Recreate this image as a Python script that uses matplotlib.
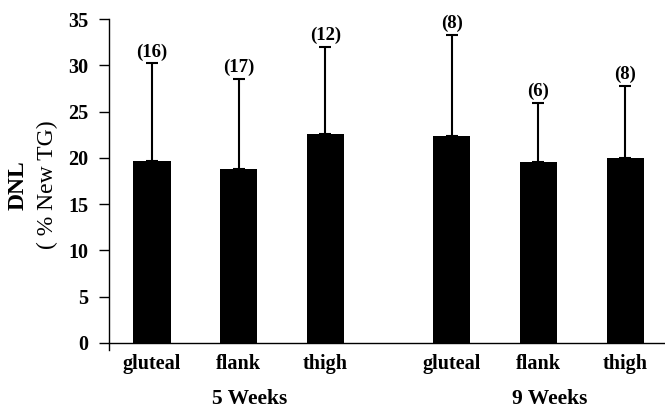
import numpy as np
import matplotlib
matplotlib.use('Agg')
import matplotlib.pyplot as plt

# data
sites = ['gluteal', 'flank', 'thigh']
groups = ['5 Weeks', '9 Weeks']
dnl_5wk = [19.7, 18.8, 22.6]
sd_5wk = [10.5, 9.7, 9.4]
n_5wk = [16, 17, 12]
dnl_9wk = [22.4, 19.5, 20.0]
sd_9wk = [10.9, 6.4, 7.8]
n_9wk = [8, 6, 8]

plt.rcParams['font.family'] = ['Liberation Serif', 'DejaVu Serif']

fig = plt.figure(figsize=(6.65, 4.08), dpi=100)
ax = fig.add_axes([0.164, 0.1412, 0.836, 0.8122])

# spine position first: it resets the ticks
ax.spines['top'].set_visible(False)
ax.spines['right'].set_visible(False)
ax.spines['bottom'].set_position(('data', 0))
ax.spines['left'].set_linewidth(1)
ax.spines['bottom'].set_linewidth(1)

gap = 1.46
x5 = np.arange(len(sites))
x9 = x5 + len(sites) - 1 + gap
xs = np.concatenate([x5, x9])
vals = dnl_5wk + dnl_9wk
errs = sd_5wk + sd_9wk
ns = n_5wk + n_9wk

ax.bar(xs, vals, width=0.43, color='black', zorder=2)
ax.errorbar(xs, vals, yerr=[np.zeros(len(errs)), errs], fmt='none',
            ecolor='black', elinewidth=1.5, capsize=4.5, capthick=1.5, zorder=1)
for x, v, e, n in zip(xs, vals, errs, ns):
    ax.text(x, v + e + 0.3, f'({n})', ha='center', va='bottom',
            fontsize=13.5, fontweight='bold')

ax.set_xlim(-0.496, 5.92)
ax.set_ylim(-0.8, 35)
ax.set_yticks(np.arange(0, 36, 5))
ax.set_yticklabels([str(v) for v in range(0, 36, 5)],
                   fontsize=14.5, fontweight='bold')
ax.set_xticks(xs)
ax.set_xticklabels(sites * 2, fontsize=14.5, fontweight='bold')
ax.tick_params(axis='x', length=0, pad=8)
ax.tick_params(axis='y', length=7, width=1, direction='out', pad=8)

# group labels
for g, xg in zip(groups, [x5.mean(), x9.mean()]):
    ax.text(xg + 0.13, -6.0, g, ha='center', va='center',
            fontsize=15.5, fontweight='bold')

# y label: two lines, first bold
ax.text(-0.163, 0.5, 'DNL', transform=ax.transAxes, rotation=90,
        ha='center', va='center', fontsize=17, fontweight='bold')
ax.text(-0.111, 0.5, '( % New TG)', transform=ax.transAxes, rotation=90,
        ha='center', va='center', fontsize=17)

fig.savefig('out.png', dpi=100)
